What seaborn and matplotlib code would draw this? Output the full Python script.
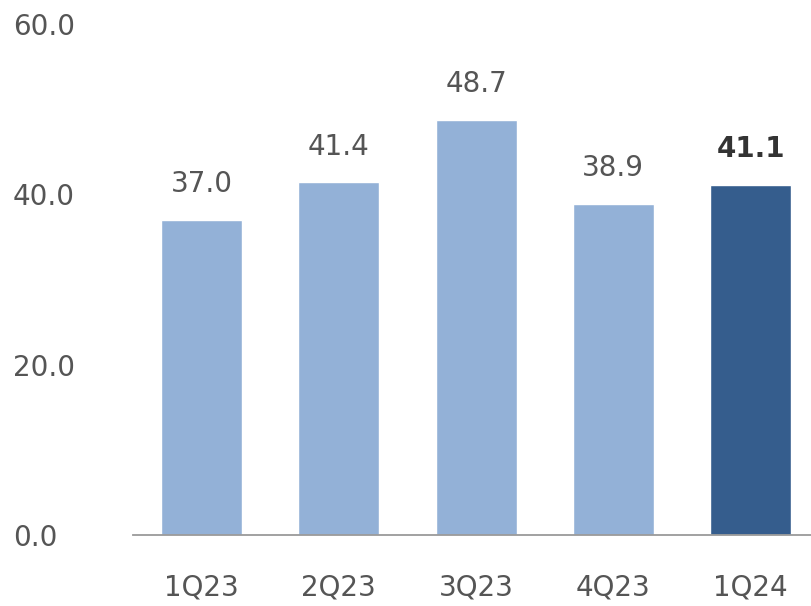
import matplotlib
matplotlib.use("Agg")
import matplotlib.pyplot as plt
import seaborn as sns
import pandas as pd

# Quarterly values
quarters = ["1Q23", "2Q23", "3Q23", "4Q23", "1Q24"]
values = [37.0, 41.4, 48.7, 38.9, 41.1]
y_ticks = [0, 20, 40, 60]

LIGHT = "#93B1D7"
DARK = "#355D8D"
TEXT = "#555555"

sns.set_theme(style="white")
plt.rcParams["font.family"] = ["DejaVu Sans"]

df = pd.DataFrame({"quarter": quarters, "value": values})
palette = {q: (DARK if q == quarters[-1] else LIGHT) for q in quarters}

fig = plt.figure(figsize=(8.11, 6.06), dpi=100)
ax = fig.add_axes([133 / 811, 1 - 535 / 606, 1 - 133 / 811, (535 - 24) / 606])

sns.barplot(data=df, x="quarter", y="value", hue="quarter", palette=palette,
            width=0.59, legend=False, ax=ax, saturation=1)

ax.set_xlim(-0.5, 4.44)
ax.set_ylim(0, 60)
ax.set_yticks(y_ticks)
ax.set_yticklabels([f"{t:.1f}" for t in y_ticks])
ax.set_xlabel("")
ax.set_ylabel("")

for s in ["top", "right", "left"]:
    ax.spines[s].set_visible(False)
ax.spines["bottom"].set_color("#9a9a9a")
ax.spines["bottom"].set_linewidth(1.3)

ax.tick_params(axis="y", length=0, pad=86.4, labelsize=20, labelcolor=TEXT)
for lbl in ax.get_yticklabels():
    lbl.set_horizontalalignment("left")
ax.tick_params(axis="x", length=0, pad=28, labelsize=20, labelcolor=TEXT)

for i, (q, v) in enumerate(zip(quarters, values)):
    last = i == len(quarters) - 1
    ax.annotate(f"{v:.1f}", xy=(i, v), xytext=(0, 20), textcoords="offset points",
                ha="center", va="baseline", fontsize=20,
                color="#333333" if last else TEXT,
                fontweight="bold" if last else "normal")

fig.savefig("out.png", dpi=100, facecolor="white")
